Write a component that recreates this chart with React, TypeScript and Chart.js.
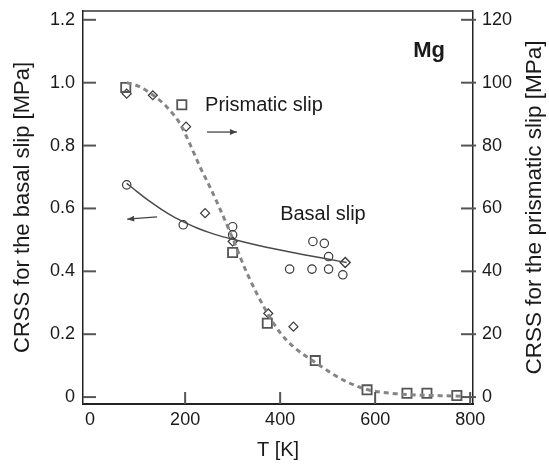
import React, { useEffect, useRef } from "react";
import { Chart, registerables } from "chart.js";

Chart.register(...registerables);

// ---- Data ----
const xTicks = [0, 200, 400, 600, 800];
const leftTicks = [0, 0.2, 0.4, 0.6, 0.8, 1.0, 1.2];
const rightTicks = [0, 20, 40, 60, 80, 100, 120];

// Prismatic slip (right axis, MPa)
const prisSqT = [75, 193, 300, 373, 474, 583, 667, 709, 772];
const prisSqV = [98.5, 93, 46, 23.5, 11.6, 2.3, 1.2, 1.2, 0.5];
const prisDiT = [77, 132, 202, 242, 300, 375, 428];
const prisDiV = [96.5, 96, 86, 58.5, 49.5, 26.6, 22.4];
const prisFitT = [77, 100, 133, 160, 189, 210, 232, 250, 267, 300, 330, 372, 400, 428, 474, 533, 583, 650, 780];
const prisFitV = [100, 99, 96, 92.5, 87, 80.5, 73, 67.5, 62, 50.5, 39.5, 27, 20.5, 16, 11, 5.4, 2.4, 1.0, 0.3];

// Basal slip (left axis, MPa)
const basT = [77, 196, 300, 300, 420, 467, 469, 493, 502, 502, 532];
const basV = [0.675, 0.548, 0.542, 0.516, 0.407, 0.407, 0.495, 0.489, 0.447, 0.407, 0.389];
const basDiT = [537];
const basDiV = [0.428];
const basFitT = [77, 100, 125, 150, 175, 200, 225, 250, 275, 300, 350, 400, 450, 500, 540];
const basFitV = [0.68, 0.652, 0.623, 0.597, 0.574, 0.555, 0.538, 0.524, 0.512, 0.502, 0.484, 0.468, 0.453, 0.439, 0.428];

const FONT = "'Liberation Sans', Arial, Helvetica, sans-serif";
const rightTitle = "CRSS for the prismatic slip [MPa]";

const pts = (xs: number[], ys: number[]) => xs.map((x, i) => ({ x, y: ys[i] }));

const decoPlugin = {
  id: "deco",
  afterDatasetsDraw(chart: any) {
    const { ctx, chartArea, scales } = chart;
    const x = scales.x;
    const yl = scales.y;
    const yr = scales.y2;
    ctx.save();
    // top border
    ctx.strokeStyle = "#333";
    ctx.lineWidth = 1.5;
    ctx.beginPath();
    ctx.moveTo(chartArea.left, chartArea.top);
    ctx.lineTo(chartArea.right, chartArea.top);
    ctx.stroke();
    // inward ticks
    ctx.strokeStyle = "#555";
    ctx.lineWidth = 2;
    leftTicks.forEach((v) => {
      const py = yl.getPixelForValue(v);
      ctx.beginPath();
      ctx.moveTo(chartArea.left, py);
      ctx.lineTo(chartArea.left + 13, py);
      ctx.stroke();
    });
    rightTicks.forEach((v) => {
      const py = yr.getPixelForValue(v);
      ctx.beginPath();
      ctx.moveTo(chartArea.right + 3, py);
      ctx.lineTo(chartArea.right - 12, py);
      ctx.stroke();
    });
    xTicks.forEach((v) => {
      if (v === 0) return;
      const px = x.getPixelForValue(v);
      ctx.beginPath();
      ctx.moveTo(px, chartArea.bottom);
      ctx.lineTo(px, chartArea.bottom - 12);
      ctx.stroke();
    });
    // right axis title (reads bottom to top)
    ctx.save();
    ctx.fillStyle = "#1a1a1a";
    ctx.font = `22.5px ${FONT}`;
    ctx.textAlign = "center";
    ctx.textBaseline = "middle";
    ctx.translate(535, (chartArea.top + chartArea.bottom) / 2);
    ctx.rotate(-Math.PI / 2);
    ctx.fillText(rightTitle, 0, 0);
    ctx.restore();
    // annotations
    ctx.fillStyle = "#1a1a1a";
    ctx.textBaseline = "middle";
    ctx.font = `20px ${FONT}`;
    ctx.textAlign = "left";
    ctx.fillText("Prismatic slip", x.getPixelForValue(242), yl.getPixelForValue(0.926));
    ctx.fillText("Basal slip", x.getPixelForValue(400), yl.getPixelForValue(0.581));
    ctx.font = `bold 22px ${FONT}`;
    ctx.textAlign = "right";
    ctx.fillText("Mg", x.getPixelForValue(747), yl.getPixelForValue(1.1));
    // arrows
    const arrow = (x1: number, y1: number, x2: number, y2: number) => {
      const ax = x.getPixelForValue(x1), ay = yl.getPixelForValue(y1);
      const bx = x.getPixelForValue(x2), by = yl.getPixelForValue(y2);
      ctx.strokeStyle = "#444";
      ctx.lineWidth = 1.3;
      ctx.beginPath();
      ctx.moveTo(ax, ay);
      ctx.lineTo(bx, by);
      ctx.stroke();
      const ang = Math.atan2(by - ay, bx - ax);
      ctx.fillStyle = "#444";
      ctx.beginPath();
      ctx.moveTo(bx, by);
      ctx.lineTo(bx - 7 * Math.cos(ang) + 3 * Math.sin(ang), by - 7 * Math.sin(ang) - 3 * Math.cos(ang));
      ctx.lineTo(bx - 7 * Math.cos(ang) - 3 * Math.sin(ang), by - 7 * Math.sin(ang) + 3 * Math.cos(ang));
      ctx.closePath();
      ctx.fill();
    };
    arrow(246, 0.843, 309, 0.843);
    arrow(141, 0.573, 78, 0.566);
    ctx.restore();
  },
};

export default function App() {
  const ref = useRef<HTMLCanvasElement>(null);
  useEffect(() => {
    if (!ref.current) return;
    Chart.defaults.font.family = FONT;
    Chart.defaults.color = "#1a1a1a";
    const markerColor = "#3a3a3a";
    const chart = new Chart(ref.current, {
      type: "scatter",
      data: {
        datasets: [
          {
            label: "Prismatic fit",
            type: "line",
            data: pts(prisFitT, prisFitV),
            yAxisID: "y2",
            borderColor: "#858585",
            borderWidth: 3,
            borderDash: [5, 4],
            pointRadius: 0,
            cubicInterpolationMode: "monotone",
            fill: false,
          },
          {
            label: "Basal fit",
            type: "line",
            data: pts(basFitT, basFitV),
            yAxisID: "y",
            borderColor: "#4a4a4a",
            borderWidth: 1.5,
            pointRadius: 0,
            cubicInterpolationMode: "monotone",
            fill: false,
          },
          {
            label: "Prismatic squares",
            data: pts(prisSqT, prisSqV),
            yAxisID: "y2",
            pointStyle: "rect",
            pointRadius: 6.5,
            borderColor: "#555",
            borderWidth: 1.8,
            backgroundColor: "rgba(255,255,255,0)",
          },
          {
            label: "Prismatic diamonds",
            data: pts(prisDiT, prisDiV),
            yAxisID: "y2",
            pointStyle: "rectRot",
            pointRadius: 4.5,
            borderColor: markerColor,
            borderWidth: 1.2,
            backgroundColor: "rgba(255,255,255,0)",
          },
          {
            label: "Basal circles",
            data: pts(basT, basV),
            yAxisID: "y",
            pointStyle: "circle",
            pointRadius: 4.2,
            borderColor: markerColor,
            borderWidth: 1.2,
            backgroundColor: "rgba(255,255,255,0)",
          },
          {
            label: "Basal diamonds",
            data: pts(basDiT, basDiV),
            yAxisID: "y",
            pointStyle: "rectRot",
            pointRadius: 5,
            borderColor: markerColor,
            borderWidth: 1.4,
            backgroundColor: "rgba(255,255,255,0)",
          },
        ],
      },
      options: {
        responsive: false,
        animation: false,
        layout: { padding: { top: 11, left: 0, right: 0, bottom: 0 } },
        plugins: { legend: { display: false }, tooltip: { enabled: false } },
        scales: {
          x: {
            type: "linear",
            min: -15,
            max: 806,
            afterBuildTicks: (s: any) => { s.ticks = xTicks.map((v) => ({ value: v })); },
            afterFit: (s: any) => { s.height = 64; s.paddingLeft = 0; s.paddingRight = 0; },
            grid: { display: false, drawTicks: false },
            border: { display: true, color: "#222", width: 2 },
            ticks: { font: { size: 18 }, padding: 5, color: "#1a1a1a", maxRotation: 0 },
            title: { display: true, text: "T [K]", font: { size: 20 }, padding: { bottom: 6, top: 0 }, color: "#1a1a1a" },
          },
          y: {
            type: "linear",
            position: "left",
            min: -0.022,
            max: 1.228,
            afterBuildTicks: (s: any) => { s.ticks = leftTicks.map((v) => ({ value: v })); },
            afterFit: (s: any) => { s.width = 83; s.paddingTop = 0; s.paddingBottom = 0; },
            grid: { display: false, drawTicks: false },
            border: { display: true, color: "#222", width: 1.5 },
            ticks: {
              font: { size: 18 },
              padding: 8,
              color: "#1a1a1a",
              callback: (v: any) => (Number(v) === 0 ? "0" : Number(v).toFixed(1)),
            },
            title: { display: true, text: "CRSS for the basal slip [MPa]", font: { size: 22 }, padding: { top: 10, bottom: 0 }, color: "#1a1a1a" },
          },
          y2: {
            type: "linear",
            position: "right",
            min: -2.2,
            max: 122.8,
            afterBuildTicks: (s: any) => { s.ticks = rightTicks.map((v) => ({ value: v })); },
            afterFit: (s: any) => { s.width = 76; s.paddingTop = 0; s.paddingBottom = 0; },
            grid: { display: false, drawTicks: false },
            border: { display: true, color: "#222", width: 1.5 },
            ticks: { font: { size: 18 }, padding: 9, color: "#1a1a1a", callback: (v: any) => String(v) },
            title: { display: false },
          },
        },
      },
      plugins: [decoPlugin],
    } as any);
    return () => chart.destroy();
  }, []);
  return (
    <div style={{ position: "fixed", left: 0, top: 0, width: 549, height: 468, background: "#fff" }}>
      <canvas ref={ref} width={549} height={468} />
    </div>
  );
}
